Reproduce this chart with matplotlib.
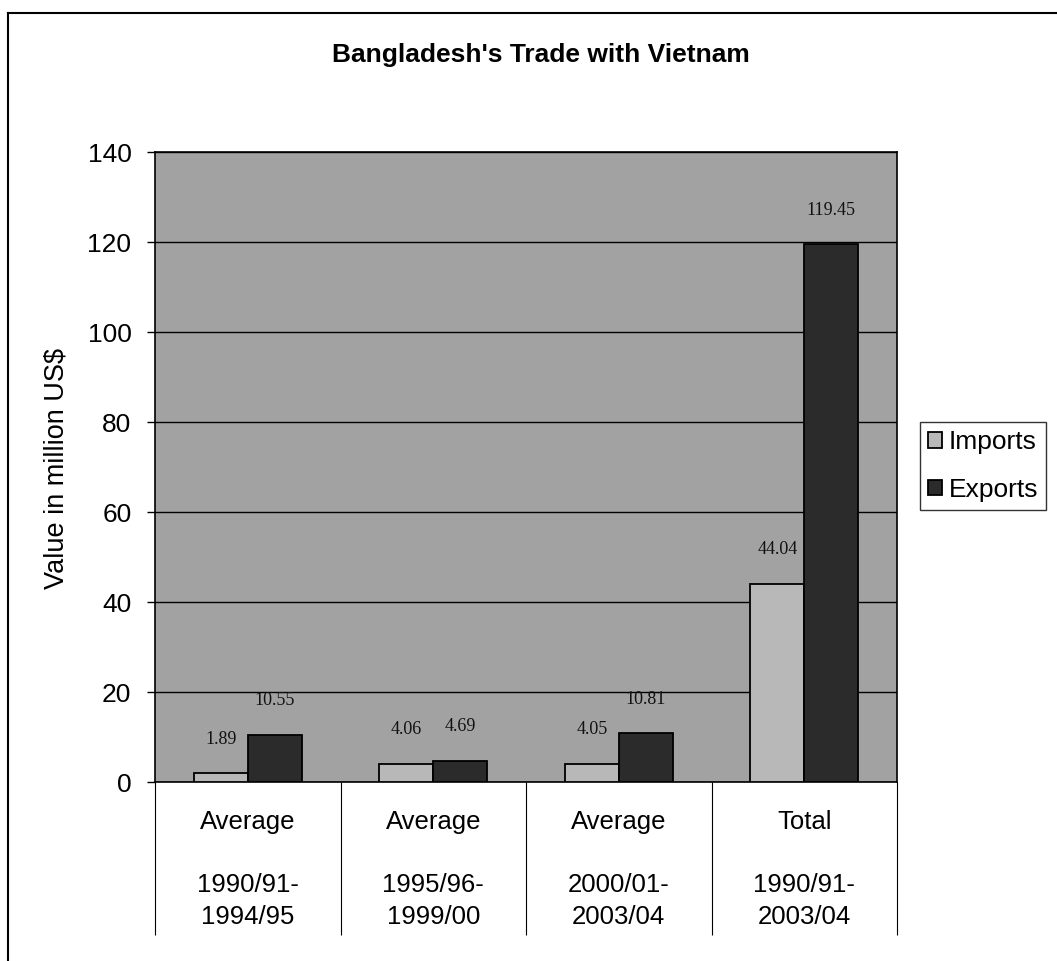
import matplotlib.pyplot as plt
import numpy as np

# Data
categories = ['Average', 'Average', 'Average', 'Total']
periods = ['1990/91-\n1994/95', '1995/96-\n1999/00', '2000/01-\n2003/04', '1990/91-\n2003/04']
imports = [1.89, 4.06, 4.05, 44.04]
exports = [10.55, 4.69, 10.81, 119.45]

W, H = 1057, 961
fig = plt.figure(figsize=(W / 100, H / 100), dpi=100)
plt.rcParams['font.family'] = ['Liberation Sans', 'DejaVu Sans']

# Axes placed in pixel terms
left, right, top, bottom = 155, 897, 152, 782
ax = fig.add_axes([left / W, 1 - bottom / H, (right - left) / W, (bottom - top) / H])
ax.set_facecolor('#a2a2a2')

x = np.arange(len(categories))
bw = 0.29
b1 = ax.bar(x - bw / 2, imports, bw, color='#b8b8b8', edgecolor='black', linewidth=1.3, label='Imports', zorder=3)
b2 = ax.bar(x + bw / 2, exports, bw, color='#2b2b2b', edgecolor='black', linewidth=1.3, label='Exports', zorder=3)

# Data labels (serif, above bars)
for bars, vals in ((b1, imports), (b2, exports)):
    for rect, v in zip(bars, vals):
        ax.annotate(f'{v:.2f}', (rect.get_x() + rect.get_width() / 2, v),
                    xytext=(0, 24.5), textcoords='offset points', ha='center', va='center',
                    fontsize=13, family=['Liberation Serif', 'DejaVu Serif'], color='#111111')

ax.set_xlim(-0.5, 3.5)
ax.set_ylim(0, 140)
ax.set_yticks(np.arange(0, 141, 20))
ax.tick_params(axis='y', direction='out', length=6, width=1, labelsize=19, pad=11)
ax.tick_params(axis='x', length=0, labelbottom=False)
ax.yaxis.grid(True, color='black', linewidth=1)
ax.set_axisbelow(True)
for s in ax.spines.values():
    s.set_linewidth(1.2)

fig.text(57 / W, 1 - 468 / H, 'Value in million US$', rotation=90, ha='center', va='center', fontsize=19.5)

# Category table below the plot
trans = ax.get_xaxis_transform()
ph = bottom - top
ax.vlines(np.arange(-0.5, 3.6, 1), -(935 - bottom) / ph, 0, transform=trans,
          color='black', linewidth=0.8, clip_on=False)
for xi, c, p in zip(x, categories, periods):
    ax.text(xi, -(822 - bottom) / ph, c, transform=trans, ha='center', va='center', fontsize=18.5)
    ax.text(xi, -(901 - bottom) / ph, p, transform=trans, ha='center', va='center',
            fontsize=18.5, linespacing=1.38)

fig.text(541 / W, 1 - 55 / H, "Bangladesh's Trade with Vietnam", ha='center', va='center',
         fontsize=19, fontweight='bold')

leg = fig.legend(handles=[b1, b2], loc='center left', bbox_to_anchor=(920 / W, 1 - 466 / H),
                 fontsize=19, frameon=True, fancybox=False, edgecolor='black',
                 handlelength=0.55, handleheight=0.55, handletextpad=0.25, borderpad=0.3,
                 labelspacing=0.9, borderaxespad=0)
leg.get_frame().set_linewidth(1)

# Outer chart border (left and top edges visible)
fig.add_artist(plt.Line2D([8 / W, 8 / W], [1 - 13 / H, 0], color='black', linewidth=1.5, transform=fig.transFigure))
fig.add_artist(plt.Line2D([8 / W, 1], [1 - 13 / H, 1 - 13 / H], color='black', linewidth=1.5, transform=fig.transFigure))

fig.savefig('out.png', dpi=100)
